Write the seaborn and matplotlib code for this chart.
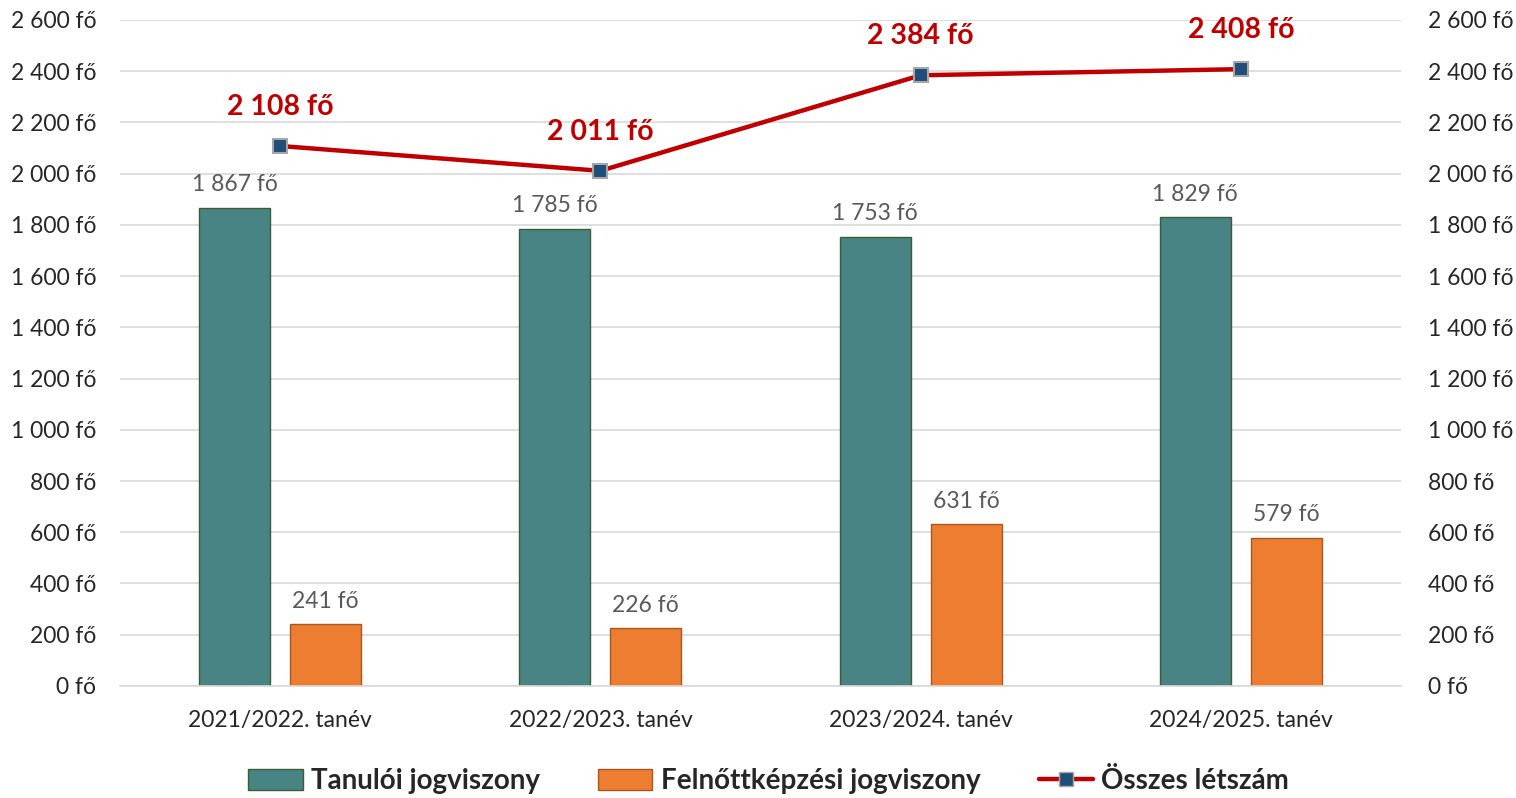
import numpy as np
import pandas as pd
import matplotlib
matplotlib.use("Agg")
import matplotlib.pyplot as plt
from matplotlib.patches import Patch
from matplotlib.lines import Line2D
import seaborn as sns

# data
years = ["2021/2022. tanév", "2022/2023. tanév", "2023/2024. tanév", "2024/2025. tanév"]
tanuloi = [1867, 1785, 1753, 1829]
felnott = [241, 226, 631, 579]
osszes = [2108, 2011, 2384, 2408]
series_names = ["Tanulói jogviszony", "Felnőttképzési jogviszony", "Összes létszám"]
yticks = list(range(0, 2601, 200))


def fmt(v):
    return f"{v:,.0f}".replace(",", " ") + " fő"


sns.set_theme(style="white")
plt.rcParams["font.family"] = ["Lato", "DejaVu Sans"]

df = pd.DataFrame({
    "year": years * 2,
    "value": tanuloi + felnott,
    "series": [series_names[0]] * len(years) + [series_names[1]] * len(years),
})

teal = "#478483"
orange = "#ED7D31"
red = "#C00000"

fig = plt.figure(figsize=(15.16, 7.98), dpi=100)
ax = fig.add_axes([0.0792, 0.1404, 0.8449, 0.8346])

sns.barplot(data=df, x="year", y="value", hue="series", order=years,
            palette=[teal, orange], width=0.568, gap=0.22, ax=ax,
            legend=False, saturation=1)

edge_cols = ["#3B5E30", "#A9571F"]
for i, cont in enumerate(ax.containers):
    for bar in cont:
        bar.set_edgecolor(edge_cols[i])
        bar.set_linewidth(1.0)
    ax.bar_label(cont, labels=[fmt(v) for v in cont.datavalues], padding=9,
                 fontsize=16.5, color="#595959")

ax.set_xlim(-0.5, 3.5)
ax.set_ylim(0, 2600)
ax.set_yticks(yticks)
ax.set_yticklabels([fmt(v) for v in yticks])
ax.yaxis.grid(True, color="#D9D9D9", linewidth=1.2)
ax.set_axisbelow(True)
ax.set_xlabel("")
ax.set_ylabel("")
for s in ["top", "left", "right"]:
    ax.spines[s].set_visible(False)
ax.spines["bottom"].set_color("#D9D9D9")
ax.spines["bottom"].set_linewidth(1.2)
ax.tick_params(axis="y", length=0, pad=17, labelsize=16.5, labelcolor="#262626")
ax.tick_params(axis="x", length=0, pad=17, labelsize=16.5, labelcolor="#262626")

ax2 = ax.twinx()
xpos = np.arange(len(years))
sns.lineplot(x=xpos, y=osszes, ax=ax2, color=red, linewidth=3.2,
             marker="s", markersize=10, markerfacecolor="#1F4E79",
             markeredgecolor="#A6A6A6", markeredgewidth=1.5)
ax2.set_ylim(0, 2600)
ax2.set_yticks(yticks)
ax2.set_yticklabels([fmt(v) for v in yticks])
ax2.tick_params(axis="y", length=0, pad=19.5, labelsize=16.5, labelcolor="#262626")
for s in ["top", "left", "right", "bottom"]:
    ax2.spines[s].set_visible(False)
ax2.grid(False)

for x, v in zip(xpos, osszes):
    ax2.annotate(fmt(v), (x, v), xytext=(0, 28), textcoords="offset points",
                 ha="center", va="center", fontsize=20.5, fontweight="bold",
                 color=red)

handles = [
    Patch(facecolor=teal, edgecolor=edge_cols[0], label=series_names[0]),
    Patch(facecolor=orange, edgecolor=edge_cols[1], label=series_names[1]),
    Line2D([0], [0], color=red, linewidth=3.2, marker="s", markersize=10,
           markerfacecolor="#1F4E79", markeredgecolor="#A6A6A6",
           label=series_names[2]),
]
fig.legend(handles=handles, loc="center", bbox_to_anchor=(0.507, 0.021),
           ncol=3, frameon=False,
           prop={"weight": "bold", "size": 20},
           handlelength=1.95, handleheight=0.75, handletextpad=0.3,
           columnspacing=2.1)

fig.savefig("out.png", dpi=100)
